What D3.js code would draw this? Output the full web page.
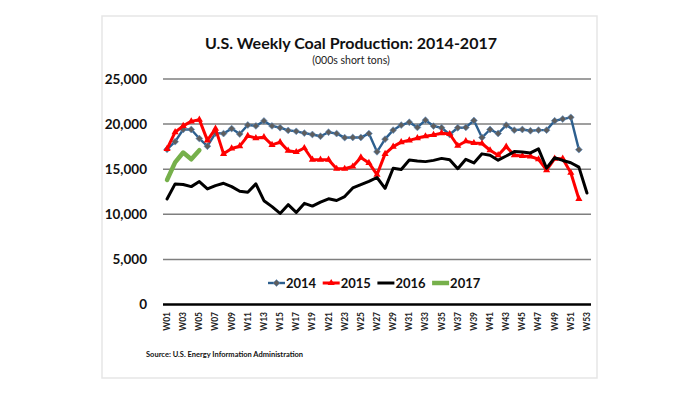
<!DOCTYPE html>
<html><head><meta charset="utf-8">
<script src="https://cdn.jsdelivr.net/npm/d3@7/dist/d3.min.js"></script>
<style>body{margin:0;background:#fff}</style>
</head><body>
<svg id="c" width="700" height="394"></svg>
<script>
// ---- data ----
const weeks = d3.range(1, 54).map(i => "W" + String(i).padStart(2, "0"));
const yTicks = [0, 5000, 10000, 15000, 20000, 25000];
const years = ["2014", "2015", "2016", "2017"];
const s2014 = [17200, 18050, 19400, 19400, 18400, 17550, 19000, 18950, 19500, 18900,
  19900, 19800, 20350, 19800, 19600, 19300, 19200, 19000, 18850, 18650,
  19100, 18950, 18500, 18520, 18520, 18950, 16930, 18330, 19330, 19890,
  20200, 19630, 20440, 19780, 19590, 18850, 19600, 19630, 20400, 18510,
  19400, 18960, 19890, 19330, 19400, 19260, 19330, 19330, 20370, 20560,
  20750, 17170];
const s2015 = [17250, 19100, 19800, 20300, 20500, 18200, 19500, 16700, 17300, 17550,
  18700, 18450, 18550, 17700, 18000, 17050, 16900, 17350, 16050, 16050,
  16050, 15050, 15050, 15300, 16300, 15700, 14400, 16700, 17500, 18000,
  18200, 18450, 18650, 18800, 19000, 18900, 17600, 18100, 17900, 17850,
  17100, 16550, 17500, 16550, 16460, 16420, 16100, 14900, 16160, 16160,
  14600, 11700];
const s2016 = [11700, 13370, 13300, 13070, 13630, 12810, 13180, 13440, 13070, 12550,
  12440, 13370, 11510, 10850, 10100, 11070, 10210, 11210, 10910, 11350,
  11720, 11530, 11970, 12920, 13280, 13640, 14080, 12880, 15110, 14960,
  16020, 15910, 15840, 15980, 16200, 16050, 15050, 16100, 15700, 16700,
  16550, 16000, 16460, 16950, 16900, 16800, 17250, 15110, 16270, 15970,
  15710, 15230, 12360];
const s2017 = [13800, 15750, 16850, 16100, 17100];
const seriesValues = [s2014, s2015, s2016, s2017];

// ---- styles ----
const colors = {"2014": "#2d5f8e", "2015": "#ff0000", "2016": "#000000", "2017": "#76b04b"};
const widths = {"2014": 2.4, "2015": 3, "2016": 3, "2017": 4.5};
const FONT = "Lato, 'Open Sans', sans-serif";

const svg = d3.select("#c");
// slide border
svg.append("rect").attr("x", 102).attr("y", 16).attr("width", 495).attr("height", 362)
  .attr("fill", "#fff").attr("stroke", "#e6e6e6").attr("stroke-width", 1.5);

const x = d3.scaleBand().domain(weeks).range([163, 591]).padding(0);
const cx = w => x(w) + x.bandwidth() / 2;
const y = d3.scaleLinear().domain([0, 25000]).range([304.5, 79]);

// gridlines
svg.append("g").selectAll("line").data(yTicks).join("line")
  .attr("x1", 163).attr("x2", 591)
  .attr("y1", d => y(d)).attr("y2", d => y(d))
  .attr("stroke", d => d === 0 ? "#000" : "#7f7f7f")
  .attr("stroke-width", d => d === 0 ? 2.6 : 1.5);

// y labels
svg.append("g").selectAll("text").data(yTicks).join("text")
  .attr("x", 147).attr("y", d => y(d)).attr("dy", "0.36em")
  .attr("text-anchor", "end")
  .attr("font-family", FONT).attr("font-weight", "bold").attr("font-size", 13.5)
  .attr("fill", "#111")
  .text(d => d3.format(",")(d));

// x labels (odd weeks)
svg.append("g").selectAll("text").data(weeks.filter((w, i) => i % 2 === 0)).join("text")
  .attr("transform", d => `translate(${cx(d)},312) rotate(-90)`)
  .attr("dy", "0.35em").attr("text-anchor", "end")
  .attr("font-family", FONT).attr("font-weight", "bold").attr("font-size", 8.5)
  .attr("fill", "#222")
  .text(d => d);

// lines
const line = d3.line().x((d, i) => cx(weeks[i])).y(d => y(d));
years.forEach((yr, k) => {
  const vals = seriesValues[k];
  const g = svg.append("g");
  g.append("path").datum(vals).attr("d", line)
    .attr("fill", "none").attr("stroke", colors[yr]).attr("stroke-width", widths[yr])
    .attr("stroke-linejoin", "round").attr("stroke-linecap", "round");
  if (yr === "2014") {
    g.selectAll("path.m").data(vals).join("path").attr("class", "m")
      .attr("transform", (d, i) => `translate(${cx(weeks[i])},${y(d)})`)
      .attr("d", d3.symbol(d3.symbolDiamond2, 30)())
      .attr("fill", "#5e5e5e").attr("stroke", "#5b8fc7").attr("stroke-width", 0.6);
  }
  if (yr === "2015") {
    g.selectAll("path.m").data(vals).join("path").attr("class", "m")
      .attr("transform", (d, i) => `translate(${cx(weeks[i])},${y(d)})`)
      .attr("d", d3.symbol(d3.symbolTriangle, 22)())
      .attr("fill", "#ff0000");
  }
});

// title
svg.append("text").attr("x", 351).attr("y", 48.5).attr("text-anchor", "middle")
  .attr("font-family", FONT).attr("font-weight", "bold").attr("font-size", 16)
  .attr("fill", "#111").text("U.S. Weekly Coal Production: 2014-2017");
svg.append("text").attr("x", 351).attr("y", 63.5).attr("text-anchor", "middle")
  .attr("font-family", FONT).attr("font-size", 10.5)
  .attr("fill", "#222").text("(000s short tons)");

// legend
const leg = svg.append("g");
years.forEach((yr, k) => {
  const x0 = 268 + k * 54.7;
  const gy = 283;
  leg.append("line").attr("x1", x0).attr("x2", x0 + 17).attr("y1", gy).attr("y2", gy)
    .attr("stroke", colors[yr]).attr("stroke-width", widths[yr]);
  if (yr === "2014") {
    leg.append("path").attr("transform", `translate(${x0 + 8.5},${gy})`)
      .attr("d", d3.symbol(d3.symbolDiamond2, 30)())
      .attr("fill", "#5e5e5e").attr("stroke", "#5b8fc7").attr("stroke-width", 0.6);
  }
  if (yr === "2015") {
    leg.append("path").attr("transform", `translate(${x0 + 8.5},${gy})`)
      .attr("d", d3.symbol(d3.symbolTriangle, 22)()).attr("fill", "#ff0000");
  }
  leg.append("text").attr("x", x0 + 18).attr("y", gy).attr("dy", "0.36em")
    .attr("font-family", FONT).attr("font-weight", "bold").attr("font-size", 13)
    .attr("fill", "#111").text(yr);
});

// source
svg.append("text").attr("x", 146).attr("y", 357)
  .attr("font-family", FONT).attr("font-weight", "bold").attr("font-size", 7.5)
  .attr("fill", "#111").text("Source: U.S. Energy Information Administration");
</script>
</body></html>
